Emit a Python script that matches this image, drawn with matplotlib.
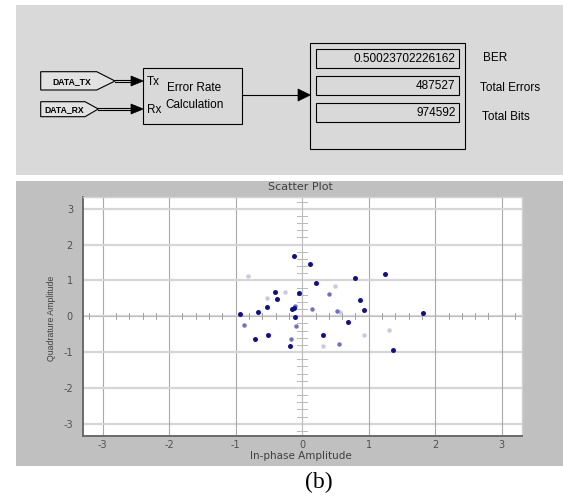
import numpy as np
import matplotlib
matplotlib.use('Agg')
import matplotlib.pyplot as plt
from matplotlib import font_manager
from matplotlib.patches import Rectangle, Polygon

plt.rcParams['axes.unicode_minus'] = False

# values shown in the display block
display_values = ['0.50023702226162', '487527', '974592']
display_names = ['BER', 'Total Errors', 'Total Bits']
input_tags = ['DATA_TX', 'DATA_RX']
port_names = ['Tx', 'Rx']

# scatter plot points (in-phase, quadrature)
dark_i = [-0.12, 0.11, 1.25, 0.80, 0.20, -0.41, -0.05, -0.38, 0.87, -0.53, -0.13, -0.15,
          0.93, -0.67, -0.93, -0.11, 0.69, -0.71, -0.52, 0.31, -0.18, 1.36, 1.82]
dark_q = [1.69, 1.45, 1.18, 1.06, 0.93, 0.69, 0.66, 0.47, 0.45, 0.26, 0.24, 0.21,
          0.18, 0.11, 0.05, -0.02, -0.17, -0.64, -0.52, -0.52, -0.82, -0.94, 0.09]
mid_i = [-0.11, 0.14, 0.53, -0.88, -0.09, -0.17, 0.55, 0.40]
mid_q = [0.30, 0.21, 0.14, -0.25, -0.27, -0.62, -0.77, 0.61]
faint_i = [-0.81, 0.50, -0.26, -0.53, 0.57, 1.30, 0.93, 0.32]
faint_q = [1.13, 0.85, 0.69, 0.50, 0.13, -0.39, -0.52, -0.84]

names = {f.name for f in font_manager.fontManager.ttflist}
if 'Liberation Sans Narrow' in names:
    narrow = 'Liberation Sans Narrow'
    nscale = 1.0
else:
    narrow = 'Liberation Sans'
    nscale = 0.82

W, H = 563, 499
fig = plt.figure(figsize=(W / 100, H / 100), dpi=100)
fig.patch.set_facecolor('white')

# canvas in pixel coordinates for the block diagram and backgrounds
cv = fig.add_axes([0, 0, 1, 1])
cv.set_xlim(0, W)
cv.set_ylim(H, 0)
cv.axis('off')

cv.add_patch(Rectangle((16, 5), W - 16, 170, facecolor='#d9d9d9', edgecolor='none'))
cv.add_patch(Rectangle((16, 181), W - 16, 285, facecolor='#c0c0c0', edgecolor='none'))

lw = 0.8
# input tags
tag_shapes = [
    [(40.7, 71.7), (96.7, 71.7), (115, 81), (96.7, 90), (40.7, 90)],
    [(40.7, 101.7), (85, 101.7), (98.3, 109), (85, 116.7), (40.7, 116.7)],
]
tag_text_x = [71.7, 64]
port_y = [81, 109]
for k in range(2):
    cv.add_patch(Polygon(tag_shapes[k], closed=True, facecolor='#e2e2e2', edgecolor='black', lw=lw))
    cv.text(tag_text_x[k], port_y[k] + 0.5, input_tags[k], family=narrow, weight='bold',
            fontsize=7.6 * nscale, ha='center', va='center')
    x0 = tag_shapes[k][2][0]
    cv.plot([x0, 132], [port_y[k] - 1.2, port_y[k] - 1.2], color='black', lw=lw)
    cv.plot([x0, 132], [port_y[k] + 1.2, port_y[k] + 1.2], color='black', lw=lw)
    cv.add_patch(Polygon([(131, port_y[k] - 5), (143.3, port_y[k]), (131, port_y[k] + 5)],
                         closed=True, facecolor='black', edgecolor='black', lw=0.5))
    cv.text(146.5, port_y[k] + 0.5, port_names[k], family=narrow, fontsize=10.3 * nscale,
            ha='left', va='center')

# error rate block
cv.add_patch(Rectangle((143.3, 67.7), 98.4, 56.6, facecolor='none', edgecolor='black', lw=lw))
cv.text(194, 87.5, 'Error Rate', family=narrow, fontsize=10.3 * nscale, ha='center', va='center')
cv.text(195, 105, 'Calculation', family=narrow, fontsize=10.3 * nscale, ha='center', va='center')
cv.plot([241.7, 299], [95, 95], color='black', lw=lw)
cv.add_patch(Polygon([(298, 89), (310.3, 95), (298, 101)], closed=True,
                     facecolor='black', edgecolor='black', lw=0.5))

# display block
cv.add_patch(Rectangle((310.3, 42.7), 154.7, 106.3, facecolor='none', edgecolor='black', lw=lw))
box_top = [49.3, 76, 102.7]
name_y = [58.3, 88.3, 116.7]
name_x = [482.7, 480, 482.3]
for k in range(3):
    cv.add_patch(Rectangle((316, box_top[k]), 143.3, 19, facecolor='none', edgecolor='black', lw=lw))
    cv.text(455.5, box_top[k] + 9.8, display_values[k], family=narrow, fontsize=10.3 * nscale,
            ha='right', va='center')
    cv.text(name_x[k], name_y[k], display_names[k], family=narrow, fontsize=10.3 * nscale,
            ha='left', va='center')

# scatter plot titles
cv.text(300.5, 187.5, 'Scatter Plot', fontsize=8, color='#404040', ha='center', va='center')
cv.text(301, 456, 'In-phase Amplitude', fontsize=7.5, color='#404040', ha='center', va='center')
cv.text(51.7, 318, 'Quadrature Amplitude', family=narrow, fontsize=7.7 * nscale, color='#404040',
        ha='center', va='center', rotation=90)
cv.text(319, 482, '(b)', family='Liberation Serif', fontsize=17, ha='center', va='center')

# scatter axes
ax = fig.add_axes([82.7 / W, 1 - 436 / H, (521.7 - 82.7) / W, (436 - 197.3) / H])
ax.set_facecolor('white')
ax.set_xlim(-3.3, 3.3)
ax.set_ylim(-3.34, 3.32)
ax.set_xticks(range(-3, 4))
ax.set_yticks(range(-3, 4))
ax.tick_params(length=0, labelsize=7, labelcolor='#505050')
ax.tick_params(axis='x', pad=3)
ax.tick_params(axis='y', pad=7)
for v in range(-3, 4):
    ax.axvline(v, color='#a9a9a9', lw=0.8, zorder=1)
    ax.axhline(v, color='#d6d6d6', lw=1.6, zorder=1)
for s in ['left', 'bottom']:
    ax.spines[s].set_color('#6a6a6a')
    ax.spines[s].set_linewidth(1.4)
for s in ['top', 'right']:
    ax.spines[s].set_color('#d0d0d0')
    ax.spines[s].set_linewidth(1.0)

# crosshair with small ticks
ax.axhline(0, color='#bdbdbd', lw=0.7, zorder=1.5)
ax.axvline(0, color='#bdbdbd', lw=0.7, zorder=1.5)
for t in np.arange(-3.2, 3.3, 0.2):
    if abs(t - round(t)) < 0.05:
        continue
    ax.plot([t, t], [-0.08, 0.08], color='#a0a0a0', lw=0.7, zorder=1.5)
    ax.plot([-0.075, 0.075], [t, t], color='#b8b8b8', lw=0.7, zorder=1.5)

ax.plot(faint_i, faint_q, 'o', color='#c9c9e6', ms=3.2, mew=0, zorder=3)
ax.plot(mid_i, mid_q, 'o', color='#6f6fc4', ms=3.2, mew=0, zorder=3)
ax.plot(dark_i, dark_q, 'o', color='#10108c', ms=3.6, mew=0, zorder=4)

fig.savefig('out.png', dpi=100)
